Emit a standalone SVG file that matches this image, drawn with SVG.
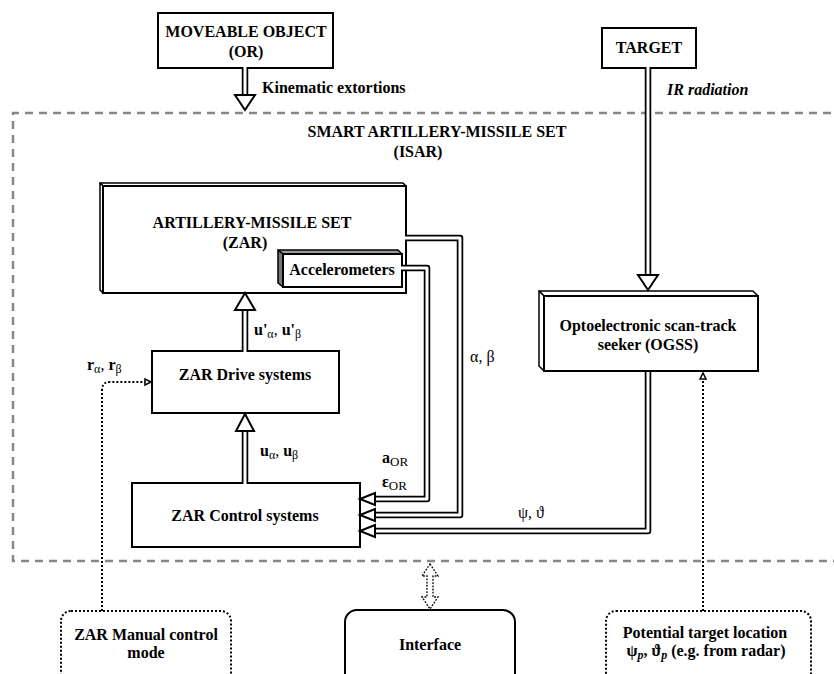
<svg xmlns="http://www.w3.org/2000/svg" width="834" height="674" viewBox="0 0 834 674">
<style>
.box{fill:#fff;stroke:#000;stroke-width:2}
.face{stroke:#000;stroke-width:1.5;stroke-linejoin:round}
.lbl{font-family:"Liberation Serif","Times New Roman",serif;font-weight:bold;font-size:16px;text-anchor:middle;fill:#000}
.t{font-family:"Liberation Serif","Times New Roman",serif;font-size:16px;fill:#000}
.dlo{fill:none;stroke:#000;stroke-width:6.5;stroke-linejoin:round}
.dli{fill:none;stroke:#fff;stroke-width:3;stroke-linejoin:round}
.head{fill:#fff;stroke:#000;stroke-width:2;stroke-linejoin:miter}
.dot{fill:none;stroke:#000;stroke-width:2;stroke-dasharray:2 2}
.dhead{fill:#fff;stroke:#000;stroke-width:1.5}
</style>
<rect width="834" height="674" fill="#fff"/>
<g id="isar">
<path d="M845,113 H13 V561 H845" fill="none" stroke="#888" stroke-width="2.5" stroke-dasharray="8 6"/>
<text class="lbl" x="437" y="137" font-size="16.5">SMART ARTILLERY-MISSILE SET</text>
<text class="lbl" x="418" y="157" font-size="16.5">(ISAR)</text>
</g>
<g id="moveable">
<rect class="box" x="158" y="13" width="175" height="55"/>
<text class="lbl" x="246" y="37" font-size="15.5">MOVEABLE OBJECT</text>
<text class="lbl" x="246" y="57" font-size="15.5">(OR)</text>
</g>
<g id="target">
<rect class="box" x="602" y="28" width="94" height="40"/>
<text class="lbl" x="649" y="53">TARGET</text>
</g>
<g id="zar">
<polygon class="face" fill="#fff" points="100,183 403,183 406,186 103,186"/>
<polygon class="face" fill="#fff" points="100,183 103,186 103,293 100,290"/>
<rect class="box" x="103" y="186" width="303" height="107"/>
<text class="lbl" x="252" y="228" font-size="16.5">ARTILLERY-MISSILE SET</text>
<text class="lbl" x="245" y="248" font-size="16.5">(ZAR)</text>
</g>
<g id="accelerometers">
<polygon class="face" fill="#999" points="278,250 398,250 402,254 283,254"/>
<polygon class="face" fill="#777" points="278,250 283,254 283,287 278,283"/>
<rect class="box" x="283" y="254" width="119" height="33"/>
<text class="lbl" x="342" y="275">Accelerometers</text>
</g>
<g id="drive">
<rect class="box" x="152" y="351" width="187" height="62"/>
<text class="lbl" x="245" y="380">ZAR Drive systems</text>
</g>
<g id="control">
<rect class="box" x="132" y="483" width="228" height="64"/>
<text class="lbl" x="245" y="521">ZAR Control systems</text>
</g>
<g id="ogss">
<polygon class="face" fill="#fff" points="539,291 753,291 758,296 544,296"/>
<polygon class="face" fill="#fff" points="539,291 544,296 544,371 539,366"/>
<rect class="box" x="544" y="296" width="214" height="75"/>
<text class="lbl" x="648" y="331">Optoelectronic scan-track</text>
<text class="lbl" x="648" y="350">seeker (OGSS)</text>
</g>
<g id="manual">
<rect class="dot" x="61" y="611" width="170" height="90" rx="10"/>
<text class="lbl" x="146" y="640">ZAR Manual control</text>
<text class="lbl" x="146" y="658">mode</text>
</g>
<g id="interface">
<rect class="box" x="345" y="610" width="170" height="90" rx="12"/>
<text class="lbl" x="430" y="650">Interface</text>
</g>
<g id="potential">
<rect class="dot" x="606" y="611" width="205" height="90" rx="10"/>
<text class="lbl" x="705" y="638">Potential target location</text>
<text class="lbl" x="706" y="656">ψ<tspan font-style="italic" font-size="12" dy="3">p</tspan><tspan dy="-3">, ϑ</tspan><tspan font-style="italic" font-size="12" dy="3">p</tspan><tspan dy="-3"> (e.g. from radar)</tspan></text>
</g>
<g id="connectors">
<!-- kinematic extortions -->
<path class="dlo" d="M245,68 V96"/><path class="dli" d="M245,67 V96"/>
<polygon class="head" points="245,110 235,95 255,95"/>
<text class="t" x="262" y="93" font-weight="bold" font-size="16.5" fill="#444">Kinematic extortions</text>
<!-- IR radiation -->
<path class="dlo" d="M648,68 V276"/><path class="dli" d="M648,67 V276"/>
<polygon class="head" points="648,290 638,275 658,275"/>
<text class="t" x="667" y="95" font-weight="bold" font-style="italic">IR radiation</text>
<!-- u' -->
<path class="dlo" d="M245,351 V311"/><path class="dli" d="M245,352 V311"/>
<polygon class="head" points="245,293 235,310 255,310"/>
<text class="t" x="254" y="335"><tspan font-weight="bold">u'</tspan><tspan font-size="12" dy="3">α</tspan><tspan dy="-3">, </tspan><tspan font-weight="bold">u'</tspan><tspan font-size="12" dy="3">β</tspan></text>
<!-- u -->
<path class="dlo" d="M245,483 V431"/><path class="dli" d="M245,484 V431"/>
<polygon class="head" points="245,414 236,431 254,431"/>
<text class="t" x="260" y="456"><tspan font-weight="bold">u</tspan><tspan font-size="12" dy="3">α</tspan><tspan dy="-3">, </tspan><tspan font-weight="bold">u</tspan><tspan font-size="12" dy="3">β</tspan></text>
<!-- accelerometers to control -->
<path class="dlo" d="M402,268 H427 V499 H374"/><path class="dli" d="M401,268 H427 V499 H374"/>
<polygon class="head" points="360,499 375,493 375,505"/>
<!-- ZAR to control -->
<path class="dlo" d="M406,238 H460 V515 H374"/><path class="dli" d="M405,238 H460 V515 H374"/>
<polygon class="head" points="360,515 375,509 375,521"/>
<!-- OGSS to control -->
<path class="dlo" d="M648,371 V531 H374"/><path class="dli" d="M648,372 V531 H374"/>
<polygon class="head" points="360,531 375,525 375,537"/>
<text class="t" x="382" y="463"><tspan font-weight="bold">a</tspan><tspan font-size="13" dy="3">OR</tspan></text>
<text class="t" x="382" y="487"><tspan font-weight="bold">ε</tspan><tspan font-size="13" dy="3">OR</tspan></text>
<text class="t" x="470" y="362" fill="#555">α, β</text>
<text class="t" x="518" y="518" fill="#333">ψ, ϑ</text>
<!-- manual to drive -->
<path class="dot" d="M102,611 V390 Q102,382 110,382 H145"/>
<polygon class="dhead" points="151,382 145,379 145,385"/>
<text class="t" x="87" y="370"><tspan font-weight="bold">r</tspan><tspan font-size="12" dy="3">α</tspan><tspan dy="-3">, </tspan><tspan font-weight="bold">r</tspan><tspan font-size="12" dy="3">β</tspan></text>
<!-- potential to OGSS -->
<path class="dot" d="M703,611 V379"/>
<polygon class="dhead" points="703,373 700,379 706,379"/>
<!-- interface bidirectional -->
<polygon points="430,564 438,576 433,576 433,597 438,597 430,609 422,597 427,597 427,576 422,576" fill="#fff" stroke="#000" stroke-width="1.3" stroke-dasharray="1.8 1.4"/>
</g>
</svg>
